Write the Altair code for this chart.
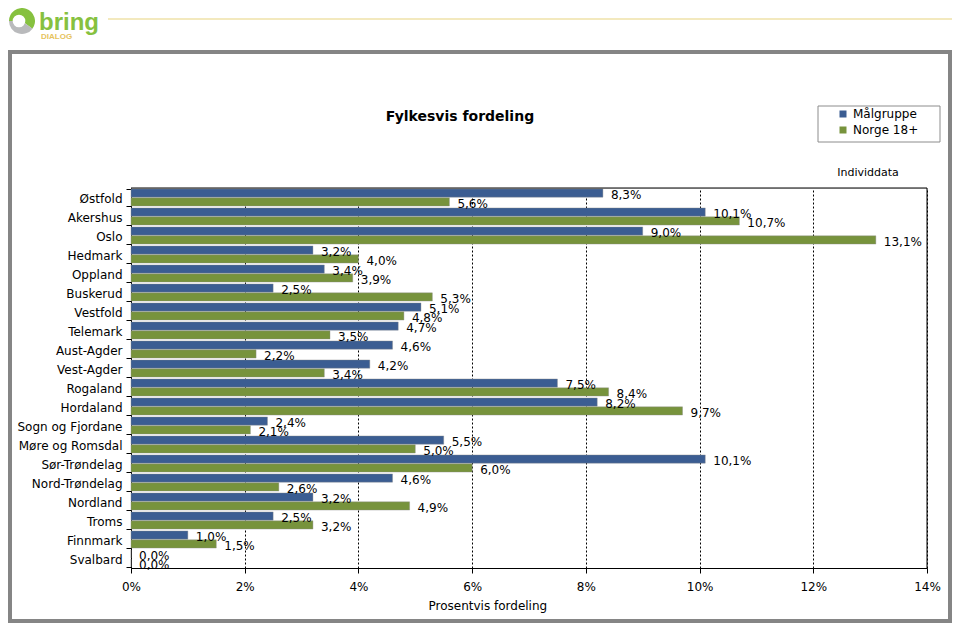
import altair as alt
import pandas as pd

regions = ["Østfold", "Akershus", "Oslo", "Hedmark", "Oppland", "Buskerud", "Vestfold",
           "Telemark", "Aust-Agder", "Vest-Agder", "Rogaland", "Hordaland",
           "Sogn og Fjordane", "Møre og Romsdal", "Sør-Trøndelag", "Nord-Trøndelag",
           "Nordland", "Troms", "Finnmark", "Svalbard"]
malgruppe = [8.3, 10.1, 9.0, 3.2, 3.4, 2.5, 5.1, 4.7, 4.6, 4.2, 7.5, 8.2, 2.4, 5.5, 10.1, 4.6, 3.2, 2.5, 1.0, 0.0]
norge = [5.6, 10.7, 13.1, 4.0, 3.9, 5.3, 4.8, 3.5, 2.2, 3.4, 8.4, 9.7, 2.1, 5.0, 6.0, 2.6, 4.9, 3.2, 1.5, 0.0]
series_names = ["Målgruppe", "Norge 18+"]
series_colors = ["#3B5D92", "#77933C"]
x_ticks = [0, 2, 4, 6, 8, 10, 12, 14]

rows = []
for r, a, b in zip(regions, malgruppe, norge):
    for s, v in zip(series_names, (a, b)):
        rows.append({"region": r, "series": s, "value": v,
                     "label": f"{v:.1f}".replace(".", ",") + "%"})
df = pd.DataFrame(rows)
one = pd.DataFrame({"k": [0]})

FONT = "DejaVu Sans"

y_enc = alt.Y("region:N", sort=regions, title=None,
              scale=alt.Scale(paddingInner=0.1, paddingOuter=0.05),
              axis=alt.Axis(tickBand="extent", tickSize=5, labelPadding=4,
                            labelFont=FONT, labelFontSize=12, labelColor="black",
                            labelBaseline="middle", labelOffset=1,
                            domainColor="black", tickColor="black", labelLimit=200))
x_enc = alt.X("value:Q", title="Prosentvis fordeling",
              scale=alt.Scale(domain=[0, 14], nice=False),
              axis=alt.Axis(values=x_ticks, labelExpr="datum.value + '%'",
                            labelFlush=False,
                            tickSize=5, labelPadding=8, labelFont=FONT, labelFontSize=12,
                            labelColor="black", domainColor="black", tickColor="black",
                            grid=True, gridColor="black", gridDash=[2, 2], gridWidth=1,
                            titleFont=FONT, titleFontSize=12, titleFontWeight="normal",
                            titleColor="black", titleX=297, titleY=37, titleAlign="left",
                            titleBaseline="middle"))

bars = alt.Chart(df).mark_bar(stroke="#8a8a8a", strokeWidth=0.4).encode(
    x=x_enc,
    y=y_enc,
    yOffset=alt.YOffset("series:N", sort=series_names,
                        scale=alt.Scale(paddingInner=0.08)),
    color=alt.Color("series:N", sort=series_names,
                    scale=alt.Scale(domain=series_names, range=series_colors),
                    legend=alt.Legend(title=None, orient="none", legendX=706, legendY=-80,
                                      symbolType="square", symbolSize=49,
                                      symbolStrokeWidth=0, labelFont=FONT,
                                      labelFontSize=12, labelColor="black",
                                      rowPadding=4, labelOffset=4)),
)

labels = alt.Chart(df).mark_text(align="left", baseline="middle", dx=8, dy=2,
                                 font=FONT, fontSize=12, color="black").encode(
    x=alt.X("value:Q"),
    y=alt.Y("region:N", sort=regions),
    yOffset=alt.YOffset("series:N", sort=series_names),
    text="label:N",
)

# plot-area frame (top and right edges)
top_edge = alt.Chart(one).mark_rule(color="black", strokeWidth=1).encode(
    x=alt.value(0), x2=alt.value(796), y=alt.value(0))
right_edge = alt.Chart(one).mark_rule(color="black", strokeWidth=1).encode(
    x=alt.value(796), y=alt.value(0), y2=alt.value(380))

# decorations (page frame, logo, title, legend box)
frame = alt.Chart(one).mark_rect(fill=None, stroke="#858585", strokeWidth=4).encode(
    x=alt.value(-121), x2=alt.value(819), y=alt.value(-136), y2=alt.value(433))
legend_box = alt.Chart(one).mark_rect(fill=None, stroke="#8c8c8c", strokeWidth=1).encode(
    x=alt.value(687), x2=alt.value(809), y=alt.value(-82), y2=alt.value(-46))
title = alt.Chart(one).mark_text(text="Fylkesvis fordeling", font=FONT, fontSize=14,
                                 fontWeight="bold", color="black", baseline="middle").encode(
    x=alt.value(329), y=alt.value(-71))
indiv = alt.Chart(one).mark_text(text="Individdata", font=FONT, fontSize=11,
                                 color="black", baseline="middle").encode(
    x=alt.value(737), y=alt.value(-15))
logo_line = alt.Chart(one).mark_rule(color="#EFE2A8", strokeWidth=1.5).encode(
    x=alt.value(-23), x2=alt.value(830), y=alt.value(-169))
logo_green = alt.Chart(one).mark_arc(theta=4.71, theta2=8.5, radius=13, color="#86C13F").encode(
    x=alt.value(-109), y=alt.value(-167))
logo_gray = alt.Chart(one).mark_arc(theta=2.2, theta2=4.71, radius=13, color="#B9BABC").encode(
    x=alt.value(-109), y=alt.value(-167))
logo_hole = alt.Chart(one).mark_point(shape="circle", filled=True, size=160, color="white",
                                      opacity=1).encode(
    x=alt.value(-112), y=alt.value(-167))
logo_text = alt.Chart(one).mark_text(text="bring", font="Liberation Sans", fontSize=24,
                                     fontWeight="bold", color="#86C13F", align="left",
                                     baseline="alphabetic").encode(
    x=alt.value(-92), y=alt.value(-158))
logo_sub = alt.Chart(one).mark_text(text="DIALOG", font="Liberation Sans", fontSize=8,
                                    fontWeight="bold", color="#E6C35C", align="left",
                                    baseline="alphabetic").encode(
    x=alt.value(-90), y=alt.value(-149))

chart = alt.layer(
    frame, legend_box, title, indiv, logo_line, logo_green, logo_gray, logo_hole,
    logo_text, logo_sub, bars, labels, top_edge, right_edge
).properties(
    width=796, height=380,
    autosize=alt.AutoSizeParams(type="none"),
    padding={"left": 123, "top": 180, "right": 25, "bottom": 56},
).configure_view(stroke="black", strokeWidth=1).configure(background="white")

chart.save("out.html", embed_options={"renderer": "svg", "actions": False})
